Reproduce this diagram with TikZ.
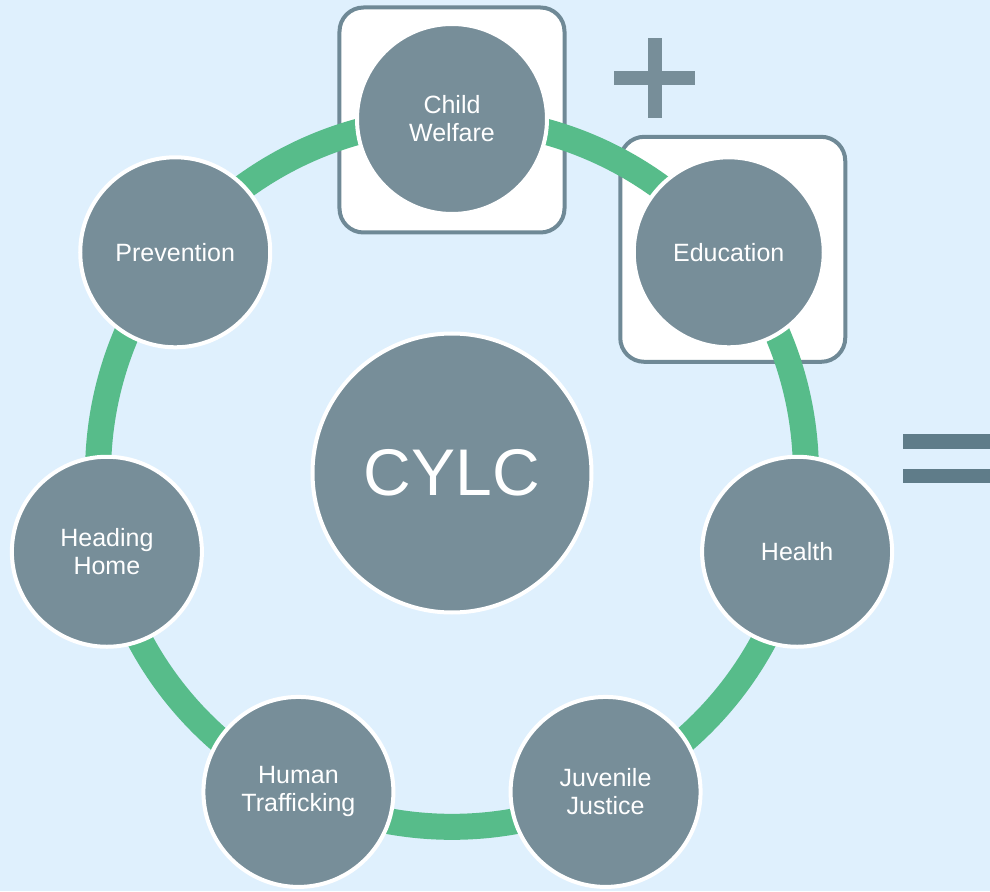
\documentclass[tikz,border=0pt]{standalone}
\usepackage{fontspec}
\setmainfont{Liberation Sans}
\definecolor{bgblue}{HTML}{DFF0FD}
\definecolor{slate}{HTML}{778E99}
\definecolor{slateframe}{HTML}{6F8996}
\definecolor{slatedark}{HTML}{5F7C89}
\definecolor{bandgreen}{HTML}{57BC8A}
\pgfdeclarelayer{back}
\pgfdeclarelayer{band}
\pgfsetlayers{back,band,main}
\tikzset{
  topic/.style={circle, fill=slate, draw=white, line width=4pt, minimum size=190pt,
    inner sep=0pt, align=center, text=white, font=\fontsize{25}{28}\selectfont},
  hub/.style={topic, minimum size=279pt, font=\fontsize{66}{70}\selectfont},
  framebox/.style={rectangle, fill=white, draw=slateframe, line width=4pt,
    rounded corners=24pt, minimum size=225pt, inner sep=0pt},
  bandlink/.style={draw=bandgreen, line width=26pt, bend left=25.71, looseness=0.896},
  signbar/.style={fill=slate},
  eqbar/.style={fill=slatedark}
}
\begin{document}
\begin{tikzpicture}[x=1pt, y=1pt]
  \path[use as bounding box] (-452,-418) rectangle (538,473);

  % hub and the seven topic circles around it
  \node[hub] (cylc) at (0,0) {CYLC};
  \node[topic] (cw) at (90:354)      {Child\\Welfare};
  \node[topic] (ed) at (38.571:354)  {Education};
  \node[topic] (he) at (-12.857:354) {Health};
  \node[topic] (jj) at (-64.286:354) {Juvenile\\Justice};
  \node[topic] (ht) at (-115.714:354){Human\\Trafficking};
  \node[topic] (hh) at (-167.143:354){Heading\\Home};
  \node[topic] (pr) at (141.429:354) {Prevention};

  % background and highlight frames
  \begin{pgfonlayer}{back}
    \fill[bgblue] (-452,-418) rectangle (538,473);
    \node[framebox] (cwbox) at ([yshift=-1pt]cw.center) {};
    \node[framebox] (edbox) at ([xshift=4pt,yshift=3pt]ed.center) {};
  \end{pgfonlayer}

  % green ring joining neighbouring topics
  \begin{pgfonlayer}{band}
    \path[bandlink] (cw.center) to (ed.center);
    \path[bandlink] (ed.center) to (he.center);
    \path[bandlink] (he.center) to (jj.center);
    \path[bandlink] (jj.center) to (ht.center);
    \path[bandlink] (ht.center) to (hh.center);
    \path[bandlink] (hh.center) to (pr.center);
    \path[bandlink] (pr.center) to (cw.center);
  \end{pgfonlayer}

  % plus sign
  \fill[signbar] (162,388) rectangle (243,402);
  \fill[signbar] (196,355) rectangle (210,435);

  % equals sign
  \fill[eqbar] (451,24) rectangle (545,39);
  \fill[eqbar] (451,-10) rectangle (545,4);
\end{tikzpicture}
\end{document}
